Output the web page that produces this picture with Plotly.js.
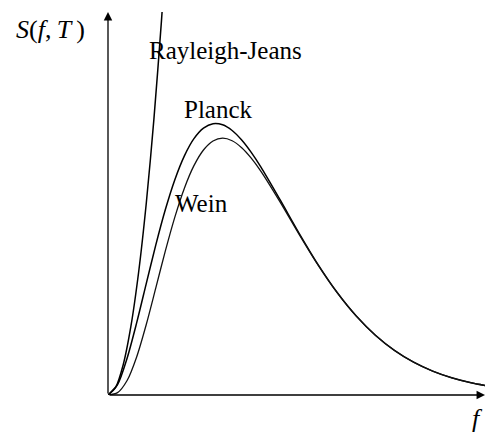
<!DOCTYPE html>
<html><head><meta charset="utf-8">
<script src="https://cdn.plot.ly/plotly-3.0.1.min.js"></script>
<style>html,body{margin:0;padding:0;background:#fff}</style>
</head><body>
<div id="chart" style="width:486px;height:434px"></div>
<script>
// frequency (hf/kT units)
var freq = [0, 0.25, 0.5, 0.75, 1, 1.25, 1.5, 1.75, 2, 2.25, 2.5, 2.75, 3, 3.25, 3.5, 3.75, 4, 4.5, 5, 5.5, 6, 6.5, 7, 7.5, 8, 8.5, 9, 9.5, 9.9];
var planck = [0, 0.0550, 0.1927, 0.3777, 0.5820, 0.7843, 0.9694, 1.1272, 1.2521, 1.3420, 1.3973, 1.4203, 1.4147, 1.3848, 1.3350, 1.2701, 1.1941, 1.0237, 0.8480, 0.6827, 0.5367, 0.4135, 0.3131, 0.2335, 0.1718, 0.1250, 0.0900, 0.0642, 0.0487];
var wein = [0, 0.0122, 0.0758, 0.1993, 0.3679, 0.5596, 0.7531, 0.9313, 1.0827, 1.2006, 1.2826, 1.3295, 1.3443, 1.3310, 1.2947, 1.2402, 1.1722, 1.0123, 0.8422, 0.6799, 0.5354, 0.4129, 0.3128, 0.2333, 0.1718, 0.1250, 0.0900, 0.0642, 0.0487];
var freqRJ = [0, 0.2, 0.4, 0.6, 0.8, 1.0, 1.2, 1.4, 1.5];
var rayleigh = [0, 0.04, 0.16, 0.36, 0.64, 1.0, 1.44, 1.96, 2.25];
var labels = ["Rayleigh-Jeans", "Planck", "Wein"];

var XMAX = 9.87, YMAX = 2.005;
var line = {color: '#000', width: 1.5, shape: 'spline', smoothing: 0.8};
var traces = [
  {x: freq, y: planck, mode: 'lines', line: line, hoverinfo: 'skip'},
  {x: freq, y: wein, mode: 'lines', line: {color: '#111', width: 1.3, shape: 'spline', smoothing: 0.8}, hoverinfo: 'skip'},
  {x: freqRJ, y: rayleigh, mode: 'lines', line: line, hoverinfo: 'skip'}
];
var tf = {family: 'Liberation Serif, Times New Roman, serif', size: 25, color: '#000'};
var tfBig = {family: 'Liberation Serif, Times New Roman, serif', size: 26, color: '#000'};
var layout = {
  width: 486, height: 434,
  margin: {l: 108, r: 1, t: 12, b: 39},
  showlegend: false,
  paper_bgcolor: '#fff', plot_bgcolor: '#fff',
  xaxis: {range: [0, XMAX], showgrid: false, zeroline: false, showticklabels: false, showline: false, ticks: '', fixedrange: true},
  yaxis: {range: [0, YMAX], showgrid: false, zeroline: false, showticklabels: false, showline: false, ticks: '', fixedrange: true},
  annotations: [
    {x: XMAX, y: 0, ax: 0, ay: 0, axref: 'x', ayref: 'y', xref: 'x', yref: 'y', text: '', showarrow: true, arrowhead: 2, arrowsize: 1.3, arrowwidth: 1.3, arrowcolor: '#000', standoff: 0, startstandoff: 0},
    {x: 0, y: YMAX, ax: 0, ay: 0, axref: 'x', ayref: 'y', xref: 'x', yref: 'y', text: '', showarrow: true, arrowhead: 2, arrowsize: 1.3, arrowwidth: 1.3, arrowcolor: '#000', standoff: 0, startstandoff: 0},
    {x: (147 - 108) / 377, y: (395 - 50) / 383, xref: 'paper', yref: 'paper', text: labels[0], showarrow: false, xanchor: 'left', yanchor: 'middle', font: tf},
    {x: (182 - 108) / 377, y: (395 - 110) / 383, xref: 'paper', yref: 'paper', text: labels[1], showarrow: false, xanchor: 'left', yanchor: 'middle', font: tf},
    {x: (173 - 108) / 377, y: (395 - 203) / 383, xref: 'paper', yref: 'paper', text: labels[2], showarrow: false, xanchor: 'left', yanchor: 'middle', font: tf},
    {x: (50 - 108) / 377, y: (395 - 29) / 383, xref: 'paper', yref: 'paper', text: '<i>S</i>(<i>f</i>,\u2009<i>T</i>\u2009)', showarrow: false, xanchor: 'center', yanchor: 'middle', font: tfBig},
    {x: (477 - 108) / 377, y: (395 - 418) / 383, xref: 'paper', yref: 'paper', text: '<i>f</i>', showarrow: false, xanchor: 'center', yanchor: 'middle', font: tfBig}
  ]
};
Plotly.newPlot('chart', traces, layout, {staticPlot: true, displayModeBar: false});
</script>
</body></html>
